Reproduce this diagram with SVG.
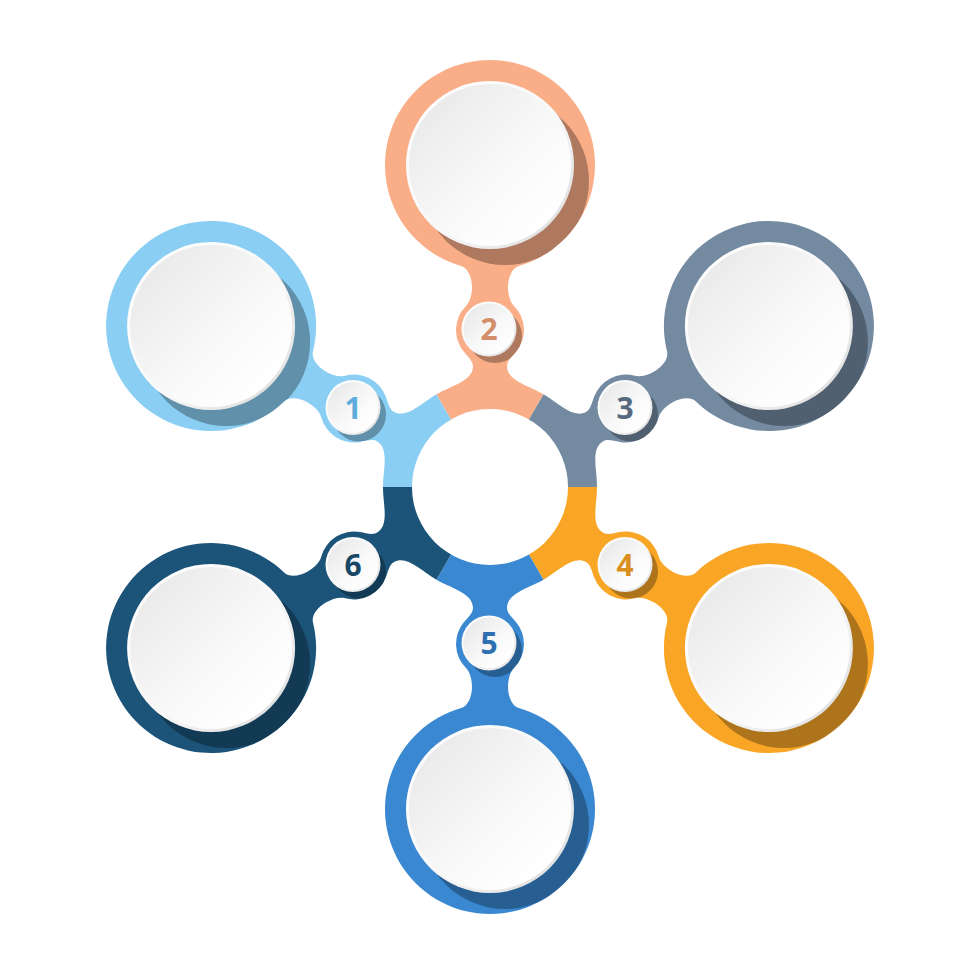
<svg xmlns="http://www.w3.org/2000/svg" width="980" height="980" viewBox="0 0 980 980">
<style>
.sh{fill:#000;fill-opacity:.3}
.rim{fill:url(#rimG)}
.face{fill:url(#faceG)}
.num{font-family:"Open Sans","Liberation Sans",sans-serif;font-weight:700;font-size:30px;text-anchor:middle}
</style>
<defs>
<linearGradient id="rimG" x1="0" y1="0" x2="1" y2="1"><stop offset="0" stop-color="#ffffff"/><stop offset="0.55" stop-color="#f8f8f8"/><stop offset="1" stop-color="#d8d8d8"/></linearGradient>
<linearGradient id="faceG" x1="0.15" y1="0.15" x2="0.85" y2="0.85"><stop offset="0" stop-color="#ebebeb"/><stop offset="0.6" stop-color="#f9f9f9"/><stop offset="1" stop-color="#ffffff"/></linearGradient>
<path id="arm" d="M53.5,-92.7 C37.9,-101.7 17,-106 17,-121 C17,-126 22.1,-130.5 26,-135.1 A34,34 0 0 0 24,-181 C19.8,-185.2 18,-193 18,-200 C18,-208 21.2,-218.9 28.9,-221.1 A105,105 0 1 0 -28.9,-221.1 C-21.2,-218.9 -18,-208 -18,-200 C-18,-193 -19.8,-185.2 -24,-181 A34,34 0 0 0 -26,-135.1 C-22.1,-130.5 -17,-126 -17,-121 C-17,-106 -37.9,-101.7 -53.5,-92.7 L0,0 Z"/>
<clipPath id="c1"><use href="#arm" transform="translate(490 487) rotate(300)"/></clipPath>
<clipPath id="c2"><use href="#arm" transform="translate(490 487)"/></clipPath>
<clipPath id="c3"><use href="#arm" transform="translate(490 487) rotate(60)"/></clipPath>
<clipPath id="c4"><use href="#arm" transform="translate(490 487) rotate(120)"/></clipPath>
<clipPath id="c5"><use href="#arm" transform="translate(490 487) rotate(180)"/></clipPath>
<clipPath id="c6"><use href="#arm" transform="translate(490 487) rotate(240)"/></clipPath>
</defs>
<rect width="980" height="980" fill="#ffffff"/>

<g id="node-1">
<use href="#arm" transform="translate(490 487) rotate(300)" fill="#8ACEF4"/>
<g clip-path="url(#c1)"><circle class="sh" cx="226.1" cy="342" r="84"/><circle class="sh" cx="359" cy="414.5" r="27"/></g>
<circle class="rim" cx="211.1" cy="326" r="84"/><circle class="face" cx="211.1" cy="326" r="81"/>
<circle class="rim" cx="353" cy="407.5" r="27.5"/><circle class="face" cx="353" cy="407.5" r="25.5"/>
<text class="num" x="353" y="418.5" fill="#5FABDB">1</text>
</g>

<g id="node-2">
<use href="#arm" transform="translate(490 487)" fill="#F9AE88"/>
<g clip-path="url(#c2)"><circle class="sh" cx="505" cy="181" r="84"/><circle class="sh" cx="495" cy="336" r="27"/></g>
<circle class="rim" cx="490" cy="165" r="84"/><circle class="face" cx="490" cy="165" r="81"/>
<circle class="rim" cx="489" cy="329" r="27.5"/><circle class="face" cx="489" cy="329" r="25.5"/>
<text class="num" x="489" y="340" fill="#D38E6C">2</text>
</g>

<g id="node-3">
<use href="#arm" transform="translate(490 487) rotate(60)" fill="#738AA1"/>
<g clip-path="url(#c3)"><circle class="sh" cx="783.9" cy="342" r="84"/><circle class="sh" cx="631" cy="414.5" r="27"/></g>
<circle class="rim" cx="768.9" cy="326" r="84"/><circle class="face" cx="768.9" cy="326" r="81"/>
<circle class="rim" cx="625" cy="407.5" r="27.5"/><circle class="face" cx="625" cy="407.5" r="25.5"/>
<text class="num" x="625" y="418.5" fill="#56697F">3</text>
</g>

<g id="node-4">
<use href="#arm" transform="translate(490 487) rotate(120)" fill="#F9A627"/>
<g clip-path="url(#c4)"><circle class="sh" cx="783.9" cy="664" r="84"/><circle class="sh" cx="631" cy="571.5" r="27"/></g>
<circle class="rim" cx="768.9" cy="648" r="84"/><circle class="face" cx="768.9" cy="648" r="81"/>
<circle class="rim" cx="625" cy="564.5" r="27.5"/><circle class="face" cx="625" cy="564.5" r="25.5"/>
<text class="num" x="625" y="575.5" fill="#DB8F1C">4</text>
</g>

<g id="node-5">
<use href="#arm" transform="translate(490 487) rotate(180)" fill="#3A88D1"/>
<g clip-path="url(#c5)"><circle class="sh" cx="505" cy="825" r="84"/><circle class="sh" cx="495" cy="650" r="27"/></g>
<circle class="rim" cx="490" cy="809" r="84"/><circle class="face" cx="490" cy="809" r="81"/>
<circle class="rim" cx="489" cy="643" r="27.5"/><circle class="face" cx="489" cy="643" r="25.5"/>
<text class="num" x="489" y="654" fill="#2E6FB1">5</text>
</g>

<g id="node-6">
<use href="#arm" transform="translate(490 487) rotate(240)" fill="#1C5479"/>
<g clip-path="url(#c6)"><circle class="sh" cx="226.1" cy="664" r="84"/><circle class="sh" cx="359" cy="571.5" r="27"/></g>
<circle class="rim" cx="211.1" cy="648" r="84"/><circle class="face" cx="211.1" cy="648" r="81"/>
<circle class="rim" cx="353" cy="564.5" r="27.5"/><circle class="face" cx="353" cy="564.5" r="25.5"/>
<text class="num" x="353" y="575.5" fill="#184866">6</text>
</g>

<g id="hub">
<circle cx="490" cy="487" r="78" fill="#ffffff"/>
</g>
</svg>
